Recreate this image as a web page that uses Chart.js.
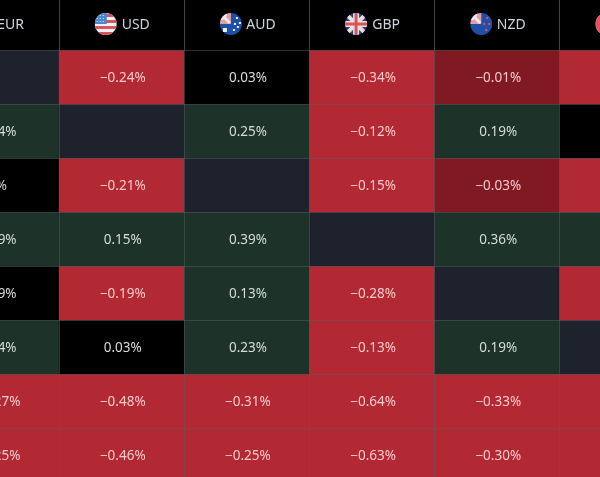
<!DOCTYPE html>
<html>
<head>
<meta charset="utf-8">
<style>
html, body { margin: 0; width: 600px; height: 477px; overflow: hidden; background: #000; }
#wrap { position: absolute; left: -66px; top: 0; width: 751px; height: 482px; }
</style>
<script src="https://cdn.jsdelivr.net/npm/chart.js@4"></script>
</head>
<body>
<div id="wrap"><canvas id="heatmap" width="751" height="482"></canvas></div>
<script>
// the picture only shows part of the table, EUR and CAD run off the edges
var currencies = ['EUR', 'USD', 'AUD', 'GBP', 'NZD', 'CAD']

var row1 = [null, -0.24, 0.03, -0.34, -0.01, -0.21]
var row2 = [0.24, null, 0.25, -0.12, 0.19, 0.03]
var row3 = [0, -0.21, null, -0.15, -0.03, -0.18]
var row4 = [0.39, 0.15, 0.39, null, 0.36, 0.16]
var row5 = [0.09, -0.19, 0.13, -0.28, null, -0.17]
var row6 = [0.24, 0.03, 0.23, -0.13, 0.19, null]
var row7 = [-0.27, -0.48, -0.31, -0.64, -0.33, -0.46]
var row8 = [-0.25, -0.46, -0.25, -0.63, -0.30, -0.44]
var rows = [row1, row2, row3, row4, row5, row6, row7, row8]

function cellColor(v) {
    if (v === null) return '#1e222d'
    if (v <= -0.1) return '#b22833'
    if (v < 0) return '#801922'
    if (v < 0.1) return '#000000'
    return '#1d3228'
}

function textColor(v) {
    return v < 0 ? '#f7c9cc' : '#d6dcd8'
}

function formatValue(v) {
    if (v === 0) return '0%'
    return (v < 0 ? '\u2212' : '') + Math.abs(v).toFixed(2) + '%'
}

var datasets = rows.map((values, i) => ({
    data: values.map(() => [i, i + 1]),
    backgroundColor: values.map(cellColor),
    borderWidth: 0,
    grouped: false,
    barPercentage: 1,
    categoryPercentage: 1
}))

var cellLabels = {
    id: 'cellLabels',
    afterDraw(chart) {
        var c = chart.ctx
        c.save()
        c.font = '13.5px "Noto Sans"'
        c.textAlign = 'center'
        c.textBaseline = 'middle'
        rows.forEach((values, i) => {
            var bars = chart.getDatasetMeta(i).data
            values.forEach((v, j) => {
                if (v === null) return
                c.fillStyle = textColor(v)
                c.fillText(formatValue(v), bars[j].x + 1, (bars[j].y + bars[j].base) / 2 + 1)
            })
        })
        c.restore()
    }
}

function drawCanton(c) {
    c.fillStyle = '#e59ea2'
    c.fillRect(-11, -11, 11, 11)
    c.strokeStyle = '#f0e8ea'
    c.lineWidth = 3
    c.beginPath()
    c.moveTo(-9, -9)
    c.lineTo(-1, -1)
    c.moveTo(-9, -9)
    c.lineTo(-9, -4)
    c.moveTo(-9, -9)
    c.lineTo(-4, -9)
    c.stroke()
}

// small round flags next to the header labels
var flagDrawers = {
    EUR(c) {
        c.fillStyle = '#2f5fb0'
        c.fillRect(-11, -11, 22, 22)
    },
    USD(c) {
        c.fillStyle = '#eef0f2'
        c.fillRect(-11, -11, 22, 22)
        c.fillStyle = '#d9555c'
        for (var y = -11; y < 11; y += 6) c.fillRect(-11, y + 1, 22, 3)
        c.fillStyle = '#4a86d0'
        c.fillRect(-11, -11, 12, 11)
        c.fillStyle = '#eef0f2'
        for (var a = -9; a < 0; a += 3) {
            for (var b = -9; b < 0; b += 3) c.fillRect(a, b, 1, 1)
        }
    },
    AUD(c) {
        c.fillStyle = '#1f50a8'
        c.fillRect(-11, -11, 22, 22)
        drawCanton(c)
        c.fillStyle = '#eef0f2'
        var stars = [[-6, 6, 2], [6, -6, 1], [7, 3, 1], [3, 6, 1], [9, -1, 1], [4, 0, 1]]
        stars.forEach(s => c.fillRect(s[0] - s[2], s[1] - s[2], s[2] * 2, s[2] * 2))
    },
    GBP(c) {
        c.fillStyle = '#2c3f78'
        c.fillRect(-11, -11, 22, 22)
        c.strokeStyle = '#e9dfe1'
        c.lineWidth = 4
        c.beginPath()
        c.moveTo(-11, -11)
        c.lineTo(11, 11)
        c.moveTo(11, -11)
        c.lineTo(-11, 11)
        c.stroke()
        c.fillStyle = '#e9dfe1'
        c.fillRect(-11, -3, 22, 6)
        c.fillRect(-3, -11, 6, 22)
        c.fillStyle = '#d9555c'
        c.fillRect(-11, -1.5, 22, 3)
        c.fillRect(-1.5, -11, 3, 22)
    },
    NZD(c) {
        c.fillStyle = '#1f50a8'
        c.fillRect(-11, -11, 22, 22)
        drawCanton(c)
        c.fillStyle = '#d9555c'
        var stars = [[6, -6], [3, 0], [8, 0], [5, 6]]
        stars.forEach(s => c.fillRect(s[0] - 1, s[1] - 1, 2, 2))
    },
    CAD(c) {
        c.fillStyle = '#eef0f2'
        c.fillRect(-11, -11, 22, 22)
        c.fillStyle = '#e0575b'
        c.fillRect(-11, -11, 6, 22)
        c.fillRect(5, -11, 6, 22)
    }
}

var headerFlags = {
    id: 'headerFlags',
    afterDraw(chart) {
        var c = chart.ctx
        var x = chart.scales.x
        currencies.forEach((name, i) => {
            c.save()
            c.translate(x.getPixelForTick(i) - 16, 24)
            c.beginPath()
            c.arc(0, 0, 11, 0, Math.PI * 2)
            c.clip()
            flagDrawers[name](c)
            c.restore()
        })
    }
}

var myChart = new Chart(document.getElementById('heatmap').getContext('2d'), {
    type: 'bar',
    data: {
        labels: currencies,
        datasets: datasets
    },
    plugins: [cellLabels, headerFlags],
    options: {
        responsive: false,
        animation: false,
        layout: { padding: 0 },
        plugins: {
            legend: { display: false },
            tooltip: { enabled: false }
        },
        scales: {
            x: {
                position: 'top',
                afterFit(scale) { scale.height = 50 },
                border: { display: false },
                grid: {
                    z: 1,
                    color: 'rgba(90, 92, 100, 0.5)',
                    tickColor: 'rgba(130, 134, 145, 0.5)',
                    tickLength: 50
                },
                ticks: {
                    color: '#d1d4dc',
                    font: { family: '"Noto Sans"', size: 14 },
                    padding: -33,
                    labelOffset: 14,
                    maxRotation: 0
                }
            },
            y: {
                min: 0,
                max: 8,
                reverse: true,
                afterFit(scale) { scale.width = 0 },
                border: { display: false },
                grid: {
                    z: 1,
                    color: 'rgba(90, 92, 100, 0.5)',
                    drawTicks: false
                },
                ticks: { display: false, stepSize: 1 }
            }
        }
    }
})
</script>
</body>
</html>
